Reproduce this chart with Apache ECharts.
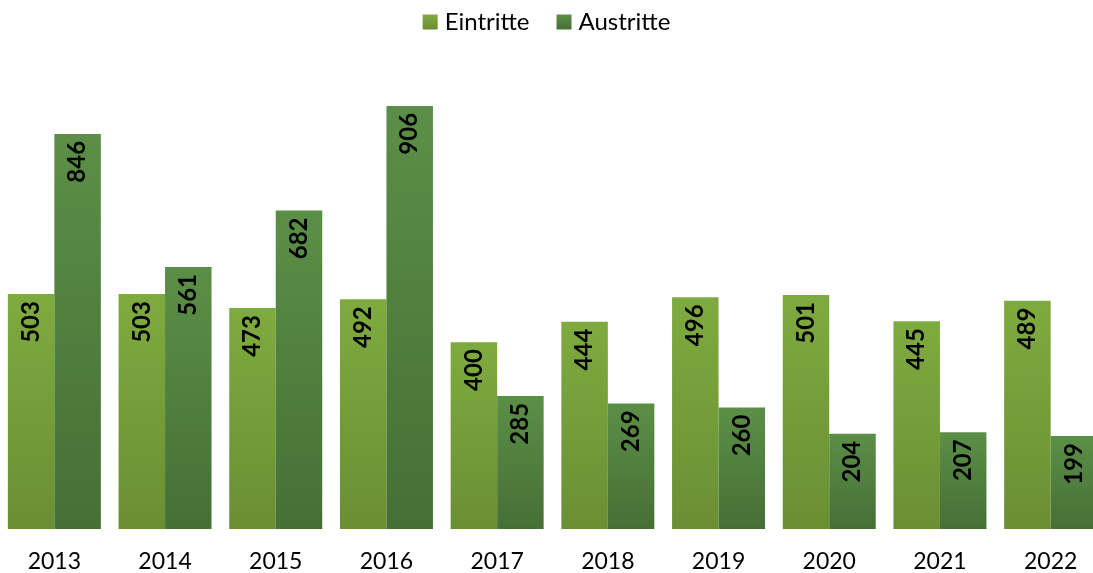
<html>
<head>
<meta charset="UTF-8">
<script src="https://cdn.jsdelivr.net/npm/echarts@6/dist/echarts.min.js"></script>
</head>
<body style="margin:0;background:#fff">
<div id="chart" style="width:1093px;height:573px"></div>
<script>
    var years = ['2013', '2014', '2015', '2016', '2017', '2018', '2019', '2020', '2021', '2022'];
    var eintritte = [503, 503, 473, 492, 400, 444, 496, 501, 445, 489];
    var austritte = [846, 561, 682, 906, 285, 269, 260, 204, 207, 199];

    var font = 'Lato, "Liberation Sans", sans-serif';

    function grad(top, bottom) {
        return {
            type: 'linear', x: 0, y: 0, x2: 0, y2: 1,
            colorStops: [{offset: 0, color: top}, {offset: 1, color: bottom}]
        };
    }

    var barLabel = {
        show: true,
        position: 'insideTop',
        rotate: 90,
        align: 'right',
        verticalAlign: 'middle',
        distance: 7,
        color: '#000',
        fontFamily: font,
        fontWeight: 'bold',
        fontSize: 24
    };

    var chart = echarts.init(document.getElementById('chart'));
    chart.setOption({
        animation: false,
        legend: {
            top: 5,
            left: 'center',
            itemWidth: 15,
            itemHeight: 15,
            itemGap: 27,
            icon: 'rect',
            textStyle: {fontFamily: font, fontSize: 24, color: '#000', padding: [0, 0, 0, 2]},
            data: ['Eintritte', 'Austritte']
        },
        grid: {left: -1, width: 1107, top: 62, bottom: 44, outerBoundsMode: 'none'},
        xAxis: {
            type: 'category',
            data: years,
            axisLine: {show: false},
            axisTick: {show: false},
            axisLabel: {fontFamily: font, fontSize: 23, color: '#000', margin: 21}
        },
        yAxis: {
            type: 'value',
            min: 0,
            max: 1000,
            show: false,
            splitLine: {show: false}
        },
        series: [
            {
                name: 'Eintritte',
                type: 'bar',
                barGap: '0%',
                barCategoryGap: '16%',
                itemStyle: {color: grad('#7eab3f', '#6a8f33')},
                label: barLabel,
                data: eintritte
            },
            {
                name: 'Austritte',
                type: 'bar',
                itemStyle: {color: grad('#5b8f47', '#466f35')},
                label: barLabel,
                data: austritte
            }
        ]
    });
</script>
</body>
</html>
